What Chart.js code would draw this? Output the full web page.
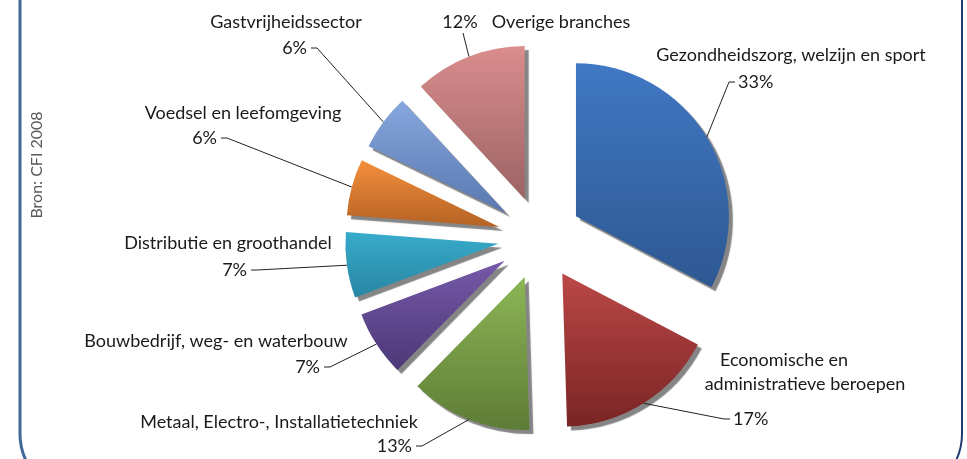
<!DOCTYPE html>
<html>
<head>
<meta charset="utf-8">
<script src="https://cdn.jsdelivr.net/npm/chart.js@4/dist/chart.umd.min.js"></script>
<style>
  html, body { margin: 0; padding: 0; background: #fff; overflow: hidden; }
  #wrap { position: relative; width: 967px; height: 459px; overflow: hidden; }
</style>
</head>
<body>
<div id="wrap">
  <canvas id="chart" width="967" height="459"></canvas>
</div>
<script>
const sectors = [
  "Gezondheidszorg, welzijn en sport",
  "Economische en administratieve beroepen",
  "Metaal, Electro-, Installatietechniek",
  "Bouwbedrijf, weg- en waterbouw",
  "Distributie en groothandel",
  "Voedsel en leefomgeving",
  "Gastvrijheidssector",
  "Overige branches"
];
const shares = [33, 17, 13, 7, 7, 6, 6, 12];
const topColors = ["#4178c4", "#bb4848", "#8cb656", "#7659a8", "#38abcb", "#f48f3c", "#86a7dd", "#da8d8d"];
const bottomColors = ["#2d5892", "#7a2424", "#5d7c36", "#4c3877", "#2886a2", "#b46224", "#5a78b0", "#9c6363"];
const source = "Bron: CFI 2008";

// label layout, offsets from pie centre: name lines [text, x, y], pct anchor, side of the leader
const labelLayout = [
  { lines: [["Gezondheidszorg, welzijn en sport", 251, -183]], pct: [198, -156], side: "left" },
  { lines: [["Economische en", 244, 122], ["administratieve beroepen", 265, 146]], pct: [193, 181], side: "left" },
  { lines: [["Metaal, Electro-, Installatietechniek", -261, 184]], pct: [-128, 208], side: "right" },
  { lines: [["Bouwbedrijf, weg- en waterbouw", -324, 103]], pct: [-220, 129], side: "right" },
  { lines: [["Distributie en groothandel", -312, 5]], pct: [-293, 32], side: "right" },
  { lines: [["Voedsel en leefomgeving", -297, -125]], pct: [-323, -100], side: "right" },
  { lines: [["Gastvrijheidssector", -254, -216]], pct: [-233, -190], side: "right" },
  { lines: [["Overige branches", 21, -216]], pct: [-80, -216], side: "below" }
];

const PIE_R = 153;
const EXPLODE = 42;
const FONT = "18px Lato";

function sliceGradient(c) {
  const chart = c.chart;
  const i = c.dataIndex;
  const area = chart.chartArea;
  if (!area) return topColors[i];
  const cx = (area.left + area.right) / 2;
  const cy = (area.top + area.bottom) / 2;
  const total = shares.reduce((a, b) => a + b, 0);
  const before = shares.slice(0, i).reduce((a, b) => a + b, 0);
  const a0 = -Math.PI / 2 + before / total * 2 * Math.PI;
  const a1 = a0 + shares[i] / total * 2 * Math.PI;
  const ys = [cy, cy + PIE_R * Math.sin(a0), cy + PIE_R * Math.sin(a1)];
  if (a0 < Math.PI / 2 && a1 > Math.PI / 2) ys.push(cy + PIE_R);
  if (a1 > 1.5 * Math.PI) ys.push(cy - PIE_R);
  const g = chart.ctx.createLinearGradient(0, Math.min(...ys), 0, Math.max(...ys));
  g.addColorStop(0, topColors[i]);
  g.addColorStop(1, bottomColors[i]);
  return g;
}

// panel border: two side strokes that bend inward just before the bottom edge
const framePlugin = {
  id: "frame",
  beforeDraw(chart) {
    const ctx = chart.ctx;
    const r = 62;
    const stop = Math.asin(28 / r);
    ctx.save();
    ctx.lineWidth = 3;
    ctx.strokeStyle = "#42689a";
    ctx.beginPath();
    ctx.moveTo(20, -5);
    ctx.lineTo(20, 434);
    ctx.arc(20 + r, 434, r, Math.PI, Math.PI - stop, true);
    ctx.stroke();
    ctx.lineWidth = 2;
    ctx.strokeStyle = "#1f3c70";
    ctx.beginPath();
    ctx.moveTo(962, -5);
    ctx.lineTo(962, 434);
    ctx.arc(962 - r, 434, r, 0, stop, false);
    ctx.stroke();
    ctx.restore();
  }
};

// draw every slice pushed out along its bisector, with a grey drop shadow
const explodePlugin = {
  id: "explode",
  beforeDatasetDraw(chart, args) {
    const ctx = chart.ctx;
    args.meta.data.forEach((arc) => {
      const mid = (arc.startAngle + arc.endAngle) / 2;
      ctx.save();
      ctx.translate(Math.cos(mid) * EXPLODE, Math.sin(mid) * EXPLODE);
      ctx.shadowColor = "#858585";
      ctx.shadowOffsetX = 4;
      ctx.shadowOffsetY = 4;
      ctx.shadowBlur = 1;
      arc.draw(ctx);
      ctx.restore();
    });
    return false;
  }
};

const labelPlugin = {
  id: "labels",
  afterDatasetsDraw(chart) {
    const ctx = chart.ctx;
    const meta = chart.getDatasetMeta(0);
    const area = chart.chartArea;
    const cx = (area.left + area.right) / 2;
    const cy = (area.top + area.bottom) / 2;
    ctx.save();
    ctx.font = FONT;
    ctx.fillStyle = "#1a1a1a";
    ctx.strokeStyle = "#222";
    ctx.lineWidth = 1;
    ctx.textBaseline = "middle";
    meta.data.forEach((arc, i) => {
      const lay = labelLayout[i];
      const mid = (arc.startAngle + arc.endAngle) / 2;
      const ax = arc.x + Math.cos(mid) * (EXPLODE + arc.outerRadius);
      const ay = arc.y + Math.sin(mid) * (EXPLODE + arc.outerRadius);
      const pctText = shares[i] + "%";
      const px = cx + lay.pct[0];
      const py = cy + lay.pct[1];
      ctx.beginPath();
      ctx.moveTo(ax, ay);
      if (lay.side === "left") {
        ctx.lineTo(px - 9, py);
        ctx.lineTo(px - 3, py);
        ctx.textAlign = "left";
      } else if (lay.side === "right") {
        ctx.lineTo(px + 10, py);
        ctx.lineTo(px + 4, py);
        ctx.textAlign = "right";
      } else {
        ctx.lineTo(px + 3, py + 11);
        ctx.textAlign = "center";
      }
      ctx.stroke();
      ctx.fillText(pctText, px, py);
      ctx.textAlign = "center";
      lay.lines.forEach(([t, x, y]) => ctx.fillText(t, cx + x, cy + y));
    });
    // source note, rotated
    ctx.translate(37, 165);
    ctx.rotate(-Math.PI / 2);
    ctx.font = "16px Lato";
    ctx.fillStyle = "#5a5a5a";
    ctx.textAlign = "center";
    ctx.fillText(source, 0, 0);
    ctx.restore();
  }
};

new Chart(document.getElementById("chart"), {
  type: "pie",
  data: {
    labels: sectors,
    datasets: [
      {
        data: shares,
        backgroundColor: sliceGradient,
        borderWidth: 0,
        radius: PIE_R,
      },
    ],
  },
  options: {
    responsive: false,
    animation: false,
    layout: { padding: { left: 113, right: 0, top: 17, bottom: 0 } },
    plugins: {
      legend: { display: false },
      tooltip: { enabled: false },
    },
  },
  plugins: [framePlugin, explodePlugin, labelPlugin],
});
</script>
</body>
</html>
